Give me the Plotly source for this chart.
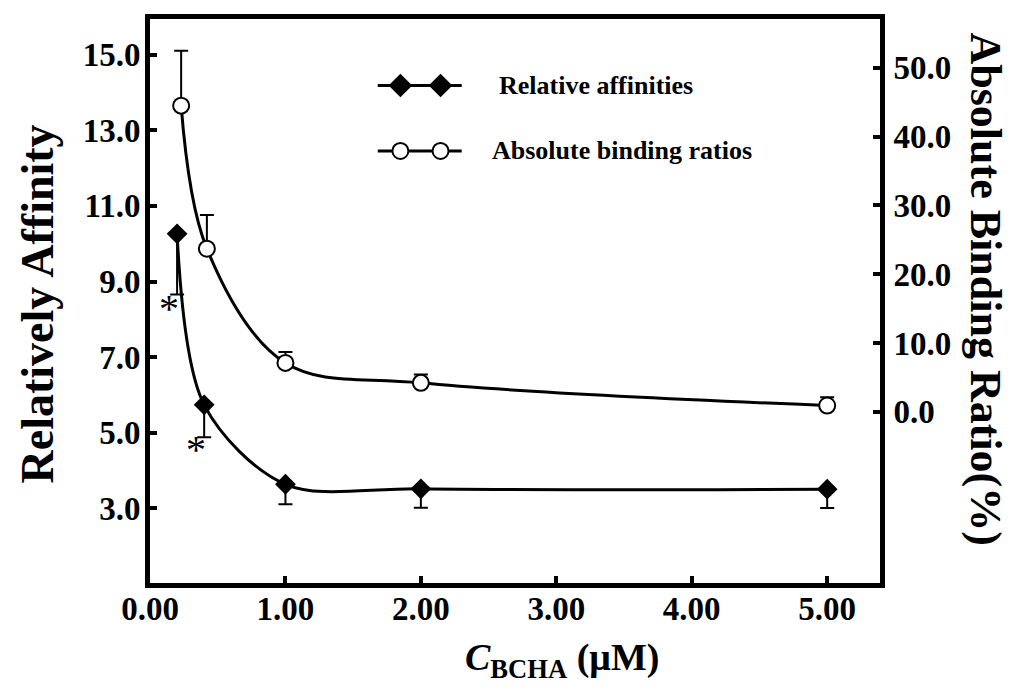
import plotly.graph_objects as go

# concentration of BCHA (uM)
conc_affinity = [0.20, 0.40, 1.0, 2.0, 5.0]
conc_binding = [0.23, 0.42, 1.0, 2.0, 5.0]

# relative affinities (left axis) with lower error bars
rel_affinity = [10.26, 5.74, 3.64, 3.52, 3.51]
rel_affinity_err = [1.6, 0.86, 0.53, 0.5, 0.5]

# absolute binding ratios in % (right axis) with upper error bars
abs_binding = [44.5, 23.7, 7.1, 4.2, 0.9]
abs_binding_err = [8.0, 4.9, 1.6, 1.2, 1.2]

# significance marks
star_x = [0.14, 0.34]
star_y = [8.3, 4.55]

x_ticks = [0, 1, 2, 3, 4, 5]
y_left_ticks = [3, 5, 7, 9, 11, 13, 15]
y_right_ticks = [0, 10, 20, 30, 40, 50]

FONT = 'Liberation Serif'

fig = go.Figure()

fig.add_trace(go.Scatter(
    x=conc_affinity, y=rel_affinity,
    mode='lines+markers', line_shape='spline',
    line=dict(color='black', width=3, smoothing=0.9),
    marker=dict(symbol='diamond', size=16, color='black'),
    error_y=dict(type='data', symmetric=False,
                 array=[0] * len(rel_affinity_err), arrayminus=rel_affinity_err,
                 color='black', thickness=2, width=7),
    showlegend=False,
))

fig.add_trace(go.Scatter(
    x=conc_binding, y=abs_binding, yaxis='y2',
    mode='lines+markers', line_shape='spline',
    line=dict(color='black', width=3),
    marker=dict(symbol='circle', size=16, color='white', line=dict(color='black', width=2)),
    error_y=dict(type='data', symmetric=False,
                 array=abs_binding_err, arrayminus=[0] * len(abs_binding_err),
                 color='black', thickness=2, width=7),
    showlegend=False,
))

# hand-drawn style legend keys: a short line with two markers on it
key_line_x = [0.312, 0.427]
key_marker_x = [0.343, 0.398]
key_rows = [0.882, 0.766]
key_symbols = ['diamond', 'circle']
key_fills = ['black', 'white']
for row_y, sym, fill in zip(key_rows, key_symbols, key_fills):
    fig.add_trace(go.Scatter(
        x=key_line_x, y=[row_y] * 2, xaxis='x3', yaxis='y3',
        mode='lines', line=dict(color='black', width=3),
        showlegend=False, hoverinfo='skip',
    ))
    fig.add_trace(go.Scatter(
        x=key_marker_x, y=[row_y] * 2, xaxis='x3', yaxis='y3',
        mode='markers',
        marker=dict(symbol=sym, size=16, color=fill, line=dict(color='black', width=2)),
        showlegend=False, hoverinfo='skip',
    ))

fig.add_annotation(x=0.476, y=key_rows[0], xref='paper', yref='paper', text='Relative affinities',
                   showarrow=False, xanchor='left', yanchor='middle',
                   font=dict(family=FONT, size=26, color='black', weight='bold'))
fig.add_annotation(x=0.466, y=key_rows[1], xref='paper', yref='paper', text='Absolute binding ratios',
                   showarrow=False, xanchor='left', yanchor='middle',
                   font=dict(family=FONT, size=26, color='black', weight='bold'))

for sx, sy in zip(star_x, star_y):
    fig.add_annotation(x=sx, y=sy, xref='x', yref='y', text='*', showarrow=False,
                       font=dict(family=FONT, size=40, color='black'))

# axis titles
fig.add_annotation(x=-0.154, y=0.495, xref='paper', yref='paper', text='Relatively Affinity',
                   showarrow=False, textangle=-90, xanchor='center', yanchor='middle',
                   font=dict(family=FONT, size=46, color='black', weight='bold'))
fig.add_annotation(x=1.144, y=0.522, xref='paper', yref='paper', text='Absolute Binding Ratio(%)',
                   showarrow=False, textangle=90, xanchor='center', yanchor='middle',
                   font=dict(family=FONT, size=44, color='black', weight='bold'))
fig.add_annotation(x=0.564, y=-0.136, xref='paper', yref='paper',
                   text='<i>C</i><sub>BCHA</sub> (μM)',
                   showarrow=False, xanchor='center', yanchor='middle',
                   font=dict(family=FONT, size=38, color='black', weight='bold'))

axis_common = dict(
    showline=True, linecolor='black', linewidth=5,
    ticks='inside', ticklen=7, tickwidth=4, tickcolor='black',
    showgrid=False, zeroline=False,
    tickfont=dict(family=FONT, size=33, color='black', weight='bold'),
)

fig.update_layout(
    width=1026, height=687,
    margin=dict(l=142, r=154, t=6, b=112),
    plot_bgcolor='white', paper_bgcolor='white',
    font=dict(family=FONT, color='black'),
    xaxis=dict(range=[0, 5.39], tickvals=x_ticks, tickformat='.2f', mirror=True,
               ticklabelstandoff=-8, **axis_common),
    yaxis=dict(range=[1.03, 15.94], tickvals=y_left_ticks, tickformat='.1f',
               ticklabelstandoff=-2, **axis_common),
    yaxis2=dict(range=[-24.9, 57.1], tickvals=y_right_ticks, tickformat='.1f',
                overlaying='y', side='right', ticklabelstandoff=2, **axis_common),
    xaxis3=dict(range=[0, 1], overlaying='x', visible=False),
    yaxis3=dict(range=[0, 1], overlaying='y', visible=False),
)

fig.write_html("out.html")
